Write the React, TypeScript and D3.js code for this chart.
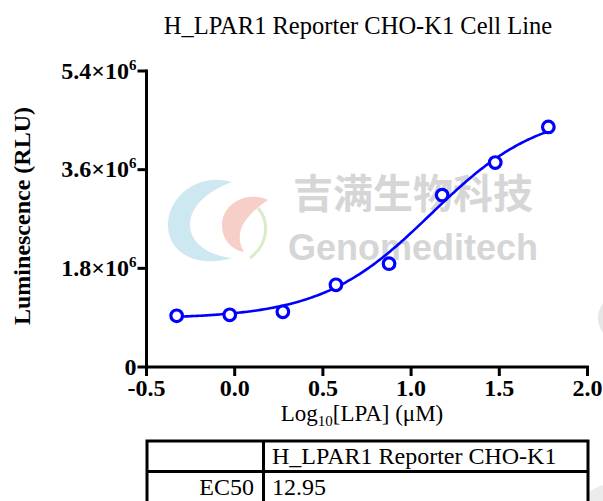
import React from "react";
import * as d3 from "d3";

const logConc = [-0.329, -0.028, 0.273, 0.574, 0.875, 1.176, 1.477, 1.778];
const lumValues = [0.934e6, 0.952e6, 1.007e6, 1.50e6, 1.885e6, 3.136e6, 3.73e6, 4.38e6];
const xTicks = [-0.5, 0.0, 0.5, 1.0, 1.5, 2.0];
const yTicks = [0, 1.8e6, 3.6e6, 5.4e6];
const yTickMantissa = ["0", "1.8", "3.6", "5.4"];
// 4PL fit parameters
const fitBottom = 0.88e6;
const fitTop = 4.7e6;
const fitEC50 = 12.95;
const fitHill = 1.4;
const tableHeader = ["", "H_LPAR1 Reporter CHO-K1"];
const tableRow = ["EC50", "12.95"];

const W = 603;
const H = 501;
const serif = "'Liberation Serif', 'Times New Roman', serif";

export default function App() {
  const x = d3.scaleLinear().domain([-0.5, 2.0]).range([146.5, 587.5]);
  const y = d3.scaleLinear().domain([0, 5.4e6]).range([367, 71]);

  const logEC50 = Math.log10(fitEC50);
  const fit = (lx: number) =>
    fitBottom + (fitTop - fitBottom) / (1 + Math.pow(10, (logEC50 - lx) * fitHill));
  const x0 = logConc[0];
  const x1 = logConc[logConc.length - 1];
  const curvePts: [number, number][] = d3
    .range(0, 201)
    .map((i) => x0 + ((x1 - x0) * i) / 200)
    .map((lx) => [lx, fit(lx)]);
  const line = d3
    .line<[number, number]>()
    .x((d) => x(d[0]))
    .y((d) => y(d[1]));

  const blue = "#0000ff";
  const fmt = (t: number) => d3.format(".1f")(t).replace("\u2212", "-");

  return (
    <svg
      width={W}
      height={H}
      style={{ position: "absolute", left: 0, top: 0, background: "#fff" }}
      xmlns="http://www.w3.org/2000/svg"
    >
      <rect width={W} height={H} fill="#fff" />
      {/* watermark */}
      <g>
        <path
          d="M 232 182 C 200 172, 168 195, 168 225 C 168 255, 200 268, 232 258 C 212 256, 190 245, 190 225 C 190 205, 210 190, 232 182 Z"
          fill="#cde8f0"
        />
        <path
          d="M 268 200 C 245 190, 222 205, 222 225 C 222 240, 232 250, 244 252 C 238 242, 238 230, 246 220 C 252 212, 260 205, 268 200 Z"
          fill="#f6cfc8"
        />
        <path d="M 258 208 C 270 222, 268 245, 250 258" fill="none" stroke="#d8ecc8" strokeWidth={3} />
        <text
          x={413}
          y={208}
          textAnchor="middle"
          fontFamily="'Noto Sans CJK SC', sans-serif"
          fontWeight={700}
          fontSize={40}
          fill="#d6d6d6"
        >
          吉满生物科技
        </text>
        <text
          x={413}
          y={260}
          textAnchor="middle"
          fontFamily="'Liberation Sans', Arial, sans-serif"
          fontWeight={700}
          fontSize={36}
          fill="#d6d6d6"
        >
          Genomeditech
        </text>
        <circle cx={622} cy={318} r={24} fill="#e6e6e6" />
        <circle cx={612} cy={520} r={36} fill="#ececec" />
      </g>

      {/* title */}
      <text x={358} y={34} textAnchor="middle" fontFamily={serif} fontSize={24.5} fill="#000">
        H_LPAR1 Reporter CHO-K1 Cell Line
      </text>

      {/* axes */}
      <g stroke="#000" strokeWidth={3} fill="none">
        <line x1={x(-0.5)} x2={x(-0.5)} y1={y(5.4e6) - 1.5} y2={y(0) + 1.5} />
        <line x1={x(-0.5) - 1.5} x2={x(2.0) + 1.5} y1={y(0)} y2={y(0)} />
        {yTicks.map((t) => (
          <line key={"yt" + t} x1={x(-0.5) - 9} x2={x(-0.5)} y1={y(t)} y2={y(t)} />
        ))}
        {xTicks.map((t) => (
          <line key={"xt" + t} x1={x(t)} x2={x(t)} y1={y(0)} y2={y(0) + 9} />
        ))}
      </g>

      {/* y tick labels */}
      {yTicks.map((t, i) => (
        <text
          key={"yl" + t}
          x={x(-0.5) - 10}
          y={y(t) + 7.5}
          textAnchor="end"
          fontFamily={serif}
          fontWeight={700}
          fontSize={24}
          fill="#000"
        >
          {t === 0 ? (
            "0"
          ) : (
            <>
              <tspan>{yTickMantissa[i]}×10</tspan>
              <tspan dy={-9} fontSize={15}>
                6
              </tspan>
            </>
          )}
        </text>
      ))}

      {/* x tick labels */}
      {xTicks.map((t) => (
        <text
          key={"xl" + t}
          x={x(t)}
          y={396}
          textAnchor="middle"
          fontFamily={serif}
          fontWeight={700}
          fontSize={24}
          fill="#000"
        >
          {fmt(t)}
        </text>
      ))}

      {/* axis titles */}
      <text
        transform={`translate(30, 216) rotate(-90)`}
        textAnchor="middle"
        fontFamily={serif}
        fontWeight={700}
        fontSize={24}
        fill="#000"
      >
        Luminescence (RLU)
      </text>
      <text x={362} y={421} textAnchor="middle" fontFamily={serif} fontSize={23} fill="#000">
        Log
        <tspan fontSize={15} dy={5}>
          10
        </tspan>
        <tspan dy={-5}>[LPA] (μM)</tspan>
      </text>

      {/* fit curve */}
      <path d={line(curvePts) || ""} fill="none" stroke={blue} strokeWidth={2.6} />

      {/* points */}
      {logConc.map((c, i) => (
        <circle
          key={"p" + i}
          cx={x(c)}
          cy={y(lumValues[i])}
          r={5.8}
          fill="#fff"
          stroke={blue}
          strokeWidth={3.2}
        />
      ))}

      {/* table */}
      <g>
        <rect x={147} y={441} width={441} height={80} fill="#fff" stroke="#000" strokeWidth={3} />
        <line x1={147} x2={588} y1={471.5} y2={471.5} stroke="#000" strokeWidth={3} />
        <line x1={263.5} x2={263.5} y1={441} y2={521} stroke="#000" strokeWidth={3} />
        <text x={253} y={464} textAnchor="end" fontFamily={serif} fontSize={24} fill="#000">
          {tableHeader[0]}
        </text>
        <text x={272} y={464} fontFamily={serif} fontSize={24} fill="#000">
          {tableHeader[1]}
        </text>
        <text x={254} y={495} textAnchor="end" fontFamily={serif} fontSize={24} fill="#000">
          {tableRow[0]}
        </text>
        <text x={272} y={495} fontFamily={serif} fontSize={24} fill="#000">
          {tableRow[1]}
        </text>
      </g>
    </svg>
  );
}
